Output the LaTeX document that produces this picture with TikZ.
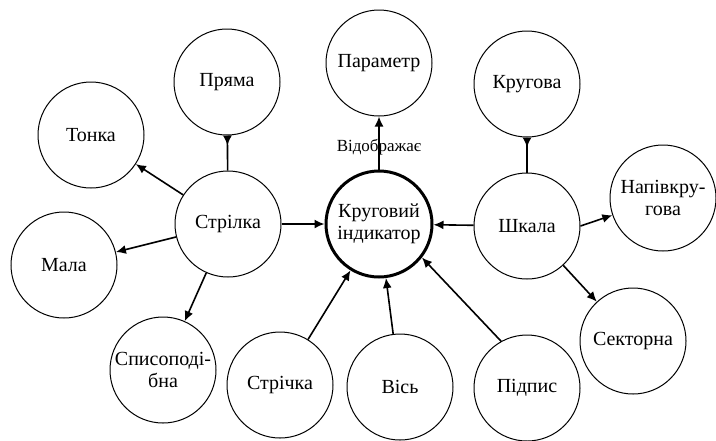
\documentclass[tikz,border=0pt]{standalone}
\usepackage{fontspec}
\setmainfont{Liberation Serif}
\usetikzlibrary{arrows.meta}

\begin{document}
\begin{tikzpicture}[x=0.5pt, y=-0.5pt,
                circ/.style={draw, circle, minimum size=53pt, inner sep=0pt, align=center, line width=0.5pt, font=\fontsize{10}{11}\selectfont},
                link/.style={line width=0.8pt, -{Latex[length=5pt,width=4.5pt]}},
                back/.style={line width=0.8pt, {Latex[length=5pt,width=4.5pt,reversed]}-}]
                \useasboundingbox (0,0) rectangle (716,440);

                \node [circ, line width=1.5pt] (ind) at (379,224) {Круговий\\індикатор};
                \node [circ] (param) at (379,63) {Параметр};

                \node [circ] (strilka) at (228,224) {Стрілка};
                \node [circ] (pryama) at (227,82) {Пряма};
                \node [circ] (tonka) at (91,135) {Тонка};
                \node [circ] (mala) at (64,265) {Мала};
                \node [circ] (spys) at (163,370) {Списоподі-\\бна};

                \node [circ] (shkala) at (527,226) {Шкала};
                \node [circ] (kruhova) at (527,84) {Кругова};
                \node [circ] (napiv) at (663,198) {Напівкру-\\гова};
                \node [circ] (sektor) at (633,341) {Секторна};

                \node [circ] (strichka) at (280,385) {Стрічка};
                \node [circ] (vis) at (400,387) {Вісь};
                \node [circ] (pidpys) at (527,388) {Підпис};

                \draw [link] (ind) -- node [pos=0.42, font=\fontsize{8.5}{10}\selectfont] {Відображає} (param);

                \draw [link] (strilka) -- (ind);
                \draw [link] (shkala) -- (ind);
                \draw [link] (strichka) -- (ind);
                \draw [link] (vis) -- (ind);
                \draw [link] (pidpys.119) -- (ind.-38);

                \draw [back] (pryama) -- (strilka);
                \draw [link] (strilka) -- (tonka);
                \draw [link] (strilka) -- (mala);
                \draw [link] (strilka) -- (spys);

                \draw [back] (kruhova) -- (shkala);
                \draw [link] (shkala.east) -- (napiv);
                \draw [link] (shkala) -- (sektor);
\end{tikzpicture}
\end{document}
